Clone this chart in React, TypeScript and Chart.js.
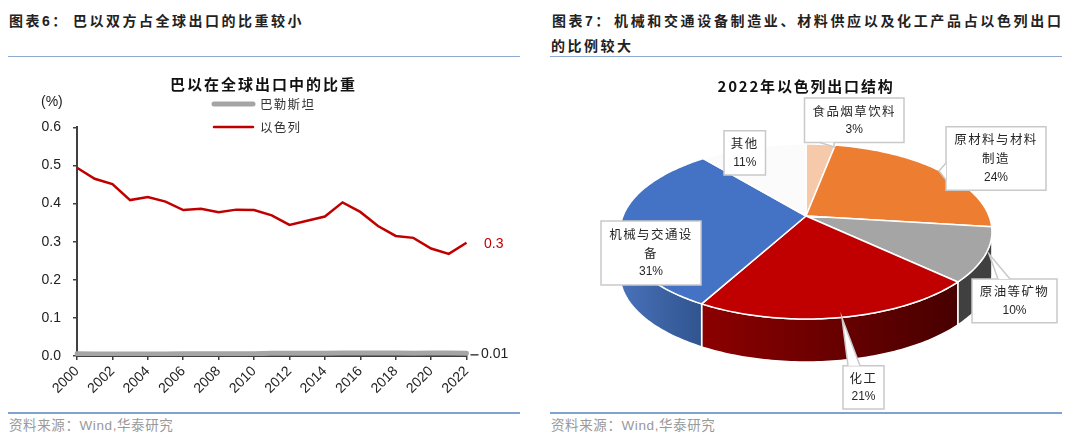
import React, { useEffect, useRef } from "react";
import { Chart, registerables } from "chart.js";

Chart.register(...registerables);

const years = ["2000","2001","2002","2003","2004","2005","2006","2007","2008","2009","2010","2011","2012","2013","2014","2015","2016","2017","2018","2019","2020","2021","2022"];
const israelShare = [0.494,0.465,0.451,0.409,0.417,0.405,0.383,0.386,0.377,0.384,0.383,0.369,0.344,0.355,0.366,0.403,0.378,0.341,0.315,0.310,0.282,0.268,0.297];
const pakistanShare = [0.006,0.005,0.005,0.005,0.005,0.005,0.006,0.006,0.006,0.006,0.006,0.007,0.007,0.007,0.007,0.008,0.008,0.008,0.008,0.007,0.008,0.008,0.007];
const exportCategories = ["食品烟草饮料","原材料与材料制造","原油等矿物","化工","机械与交通设备","其他"];
const exportShares = [3,24,10,21,31,11];
const sliceColors = ["#F5C9AA","#ED7D31","#A5A5A5","#C00000","#4472C4","#FBFBFB"];

const CJK = '"Noto Sans CJK SC", "Liberation Sans", sans-serif';
const LATIN = '"Liberation Sans", Arial, sans-serif';

const wallColors: Record<number,[string,string]> = {
  2: ["#404040","#404040"],
  3: ["#8C0000","#480000"],
  4: ["#4A72BA","#30548F"],
};
const calloutLayout = [
  { x:804.5, y:98, w:99.5, h:44.5, wedge:[[820,142.5],[834,142.5],[834,147]] },
  { x:946, y:126.7, w:100, h:63.5, wedge:[[946,163],[946,180],[939,171]] },
  { x:972, y:279, w:85, h:43.7, wedge:[[998,279],[1010,279],[989,254]] },
  { x:843, y:365.7, w:41, h:43.3, wedge:[[848,365.7],[860,365.7],[842,318]] },
  { x:601, y:221, w:100, h:64, wedge:null },
  { x:724, y:130.7, w:41.5, h:44.3, wedge:null },
];

const spacedTitle = (spacing: string, dx: number) => ({
  id: "spacedTitle",
  afterLayout(chart: any) {
    const tb = chart.titleBlock;
    if (!tb || tb.__wrapped) return;
    tb.__wrapped = true;
    const orig = tb.draw;
    tb.draw = function (this: any) {
      chart.ctx.save();
      chart.ctx.translate(dx, 0);
      (chart.ctx as any).letterSpacing = spacing;
      orig.call(this);
      chart.ctx.restore();
    };
  },
});

const lineOverlay = {
  id: "lineOverlay",
  afterDatasetsDraw(chart: any) {
    const { ctx, scales } = chart;
    ctx.save();
    ctx.font = `14px ${LATIN}`;
    ctx.fillStyle = "#222";
    ctx.textBaseline = "middle";
    ctx.textAlign = "left";
    ctx.fillText("(%)", 41, 42);
    const legendYs = [44, 67];
    chart.data.datasets.forEach((ds: any, i: number) => {
      ctx.strokeStyle = ds.borderColor;
      ctx.lineWidth = ds.borderWidth;
      ctx.lineCap = "round";
      ctx.beginPath();
      ctx.moveTo(214, legendYs[i]);
      ctx.lineTo(253, legendYs[i]);
      ctx.stroke();
      ctx.font = `12.5px ${CJK}`;
      (ctx as any).letterSpacing = "1.3px";
      ctx.fillStyle = "#333";
      ctx.fillText(ds.label, 260, legendYs[i]);
      (ctx as any).letterSpacing = "0px";
    });
    const last = years.length - 1;
    const xEnd = scales.x.getPixelForValue(last);
    const yP = scales.y.getPixelForValue(pakistanShare[last]);
    const yI = scales.y.getPixelForValue(israelShare[last]);
    ctx.strokeStyle = "#404040";
    ctx.lineWidth = 1.5;
    ctx.lineCap = "butt";
    ctx.beginPath();
    ctx.moveTo(xEnd + 4, yP + 1.5);
    ctx.lineTo(xEnd + 12, yP + 1.5);
    ctx.stroke();
    ctx.font = `14px ${LATIN}`;
    ctx.fillStyle = "#222";
    ctx.fillText(pakistanShare[last].toFixed(2), 481, yP + 1);
    ctx.fillStyle = "#C00000";
    ctx.fillText(israelShare[last].toFixed(1), 484, yI + 1);
    ctx.restore();
  },
};

// perspective projection of the pie plane (page coordinates)
const P = { cx: 806, e: 183, a: 46.5, b: 216, c: -0.177, depth: 43 };
const project = (t: number) => {
  const u = Math.sin(t), v = -Math.cos(t), den = 1 + P.c * v;
  return [P.cx + (P.e * u) / den, (P.a * v + P.b) / den];
};
const rim = (t0: number, t1: number) => {
  const n = Math.max(2, Math.ceil(((t1 - t0) * 180) / Math.PI));
  const pts: number[][] = [];
  for (let i = 0; i <= n; i++) pts.push(project(t0 + ((t1 - t0) * i) / n));
  return pts;
};

const pie3d = {
  id: "pie3d",
  beforeDatasetsDraw(chart: any) {
    const { ctx } = chart;
    const arcs = chart.getDatasetMeta(0).data;
    ctx.save();
    ctx.translate(-540, -60);
    const tMin = (100.2 * Math.PI) / 180, tMax = (259.8 * Math.PI) / 180;
    arcs.forEach((arc: any, i: number) => {
      const t0 = Math.max(arc.startAngle + Math.PI / 2, tMin);
      const t1 = Math.min(arc.endAngle + Math.PI / 2, tMax);
      if (t1 <= t0 || !wallColors[i]) return;
      const pts = rim(t0, t1);
      const xs = pts.map((p) => p[0]);
      const g = ctx.createLinearGradient(Math.min(...xs), 0, Math.max(...xs), 0);
      const isRightToLeft = pts[0][0] > pts[pts.length - 1][0];
      g.addColorStop(0, wallColors[i][isRightToLeft ? 0 : 1]);
      g.addColorStop(1, wallColors[i][isRightToLeft ? 1 : 0]);
      ctx.beginPath();
      pts.forEach((p, k) => (k ? ctx.lineTo(p[0], p[1]) : ctx.moveTo(p[0], p[1])));
      for (let k = pts.length - 1; k >= 0; k--) ctx.lineTo(pts[k][0], pts[k][1] + P.depth);
      ctx.closePath();
      ctx.fillStyle = g;
      ctx.fill();
      ctx.strokeStyle = "#fff";
      ctx.lineWidth = 1.5;
      ctx.stroke();
    });
    arcs.forEach((arc: any) => {
      const pts = rim(arc.startAngle + Math.PI / 2, arc.endAngle + Math.PI / 2);
      const apex = [P.cx, P.b];
      ctx.beginPath();
      ctx.moveTo(apex[0], apex[1]);
      pts.forEach((p) => ctx.lineTo(p[0], p[1]));
      ctx.closePath();
      ctx.fillStyle = arc.options.backgroundColor;
      ctx.fill();
      ctx.strokeStyle = "#fff";
      ctx.lineWidth = 1.5;
      ctx.lineJoin = "round";
      ctx.stroke();
    });
    ctx.restore();
    return false;
  },
  afterDraw(chart: any) {
    const { ctx } = chart;
    ctx.save();
    ctx.translate(-540, -60);
    exportCategories.forEach((name, i) => {
      const box = calloutLayout[i];
      ctx.fillStyle = "#fff";
      ctx.strokeStyle = "#C9C9C9";
      ctx.lineWidth = 1.5;
      ctx.beginPath();
      ctx.rect(box.x, box.y, box.w, box.h);
      ctx.fill();
      ctx.stroke();
      if (box.wedge) {
        const [a, b, tip] = box.wedge;
        ctx.beginPath();
        ctx.moveTo(a[0], a[1]);
        ctx.lineTo(tip[0], tip[1]);
        ctx.lineTo(b[0], b[1]);
        ctx.closePath();
        ctx.fill();
        ctx.beginPath();
        ctx.moveTo(a[0], a[1]);
        ctx.lineTo(tip[0], tip[1]);
        ctx.lineTo(b[0], b[1]);
        ctx.stroke();
      }
      const lines: string[] = [];
      for (let k = 0; k < name.length; k += 6) lines.push(name.slice(k, k + 6));
      lines.push(`${exportShares[i]}%`);
      const cx = box.x + box.w / 2, cy = box.y + box.h / 2;
      ctx.textAlign = "center";
      ctx.textBaseline = "middle";
      ctx.fillStyle = "#262626";
      lines.forEach((line, k) => {
        const y = cy + 19 * (k - (lines.length - 1) / 2);
        const isPct = k === lines.length - 1;
        ctx.font = isPct ? `12px ${LATIN}` : `12.5px ${CJK}`;
        (ctx as any).letterSpacing = isPct ? "0px" : "1.4px";
        ctx.fillText(line, cx, y);
      });
      (ctx as any).letterSpacing = "0px";
    });
    ctx.restore();
  },
};

const textStyle = (left: number, top: number, extra: any = {}): React.CSSProperties => ({
  position: "absolute", left, top, lineHeight: "20px", whiteSpace: "nowrap", fontFamily: CJK, fontSize: 14, fontWeight: 700, letterSpacing: "2.5px", color: "#222", ...extra,
});
const rule = (left: number, width: number, top: number, color: string): React.CSSProperties => ({
  position: "absolute", left, width, top, height: 1.5, background: color,
});
const footerStyle = { fontWeight: 400, color: "#999", letterSpacing: "0.6px", fontSize: 13.5 };

export default function App() {
  const lineRef = useRef<HTMLCanvasElement>(null);
  const pieRef = useRef<HTMLCanvasElement>(null);

  useEffect(() => {
    const line = new Chart(lineRef.current as HTMLCanvasElement, {
      type: "line",
      data: {
        labels: years,
        datasets: [
          { label: "巴勒斯坦", data: pakistanShare, borderColor: "#A5A5A5", borderWidth: 5, pointRadius: 0, tension: 0, borderCapStyle: "round" },
          { label: "以色列", data: israelShare, borderColor: "#C00000", borderWidth: 2.5, pointRadius: 0, tension: 0 },
        ],
      },
      options: {
        animation: false, responsive: false, events: [],
        layout: { padding: { left: 0, right: 60.5, top: 0, bottom: 0 } },
        plugins: {
          legend: { display: false },
          tooltip: { enabled: false },
          title: {
            display: true, text: "巴以在全球出口中的比重", color: "#111",
            font: { family: CJK, size: 15, weight: "bold", lineHeight: 1.2 },
            padding: { top: 15, bottom: 34.3 },
          },
        },
        scales: {
          x: {
            type: "category", offset: false,
            afterBuildTicks: (s: any) => { s.ticks = s.ticks.filter((t: any) => t.value % 2 === 0); },
            afterFit: (s: any) => { s.height = 54; },
            border: { color: "#404040", width: 2 },
            grid: { drawOnChartArea: false, drawTicks: true, tickLength: 4, color: "#404040", lineWidth: 1.5 },
            ticks: { autoSkip: false, minRotation: 45, maxRotation: 45, padding: 3, color: "#222", font: { family: LATIN, size: 14 } },
          },
          y: {
            min: 0, max: 0.6,
            afterFit: (s: any) => { s.width = 77; },
            border: { color: "#404040", width: 2 },
            grid: { drawOnChartArea: false, drawTicks: true, tickLength: 4, color: "#404040", lineWidth: 1.5 },
            ticks: { stepSize: 0.1, padding: 12, color: "#222", font: { family: LATIN, size: 14 }, callback: (v: any) => Number(v).toFixed(1) },
          },
        },
      } as any,
      plugins: [spacedTitle("2px", 30.25), lineOverlay] as any,
    });

    const pie = new Chart(pieRef.current as HTMLCanvasElement, {
      type: "pie",
      data: {
        labels: exportCategories,
        datasets: [{ data: exportShares, backgroundColor: sliceColors, borderColor: "#fff", borderWidth: 1.5 }],
      },
      options: {
        animation: false, responsive: false, events: [],
        plugins: {
          legend: { display: false },
          tooltip: { enabled: false },
          title: {
            display: true, text: "2022年以色列出口结构", color: "#111",
            font: { family: CJK, size: 15, weight: "bold", lineHeight: 1.2 },
            padding: { top: 17, bottom: 10 },
          },
        },
      } as any,
      plugins: [spacedTitle("1.8px", 0), pie3d] as any,
    });

    return () => { line.destroy(); pie.destroy(); };
  }, []);

  return (
    <div style={{ position: "absolute", left: 0, top: 0, width: 1080, height: 442, background: "#fff", overflow: "hidden" }}>
      <div style={textStyle(9, 10)}>图表<span style={{ fontFamily: LATIN }}>6</span>：</div>
      <div style={textStyle(73, 10)}>巴以双方占全球出口的比重较小</div>
      <div style={rule(8, 512, 55.5, "#8EA9CF")} />
      <canvas ref={lineRef} width={527} height={350} style={{ position: "absolute", left: 0, top: 60, width: 527, height: 350 }} />
      <div style={rule(8, 512, 412, "#7FA3D0")} />
      <div style={textStyle(9, 414, footerStyle)}>资料来源：<span style={{ fontFamily: LATIN }}>Wind,</span>华泰研究</div>

      <div style={textStyle(552, 10)}>图表<span style={{ fontFamily: LATIN }}>7</span>：</div>
      <div style={textStyle(614, 10, { letterSpacing: "2.65px" })}>机械和交通设备制造业、材料供应以及化工产品占以色列出口</div>
      <div style={textStyle(551, 35)}>的比例较大</div>
      <div style={rule(550, 512, 55.5, "#8EA9CF")} />
      <canvas ref={pieRef} width={532} height={350} style={{ position: "absolute", left: 540, top: 60, width: 532, height: 350 }} />
      <div style={rule(550, 512, 412, "#7FA3D0")} />
      <div style={textStyle(551, 414, footerStyle)}>资料来源：<span style={{ fontFamily: LATIN }}>Wind,</span>华泰研究</div>
    </div>
  );
}
